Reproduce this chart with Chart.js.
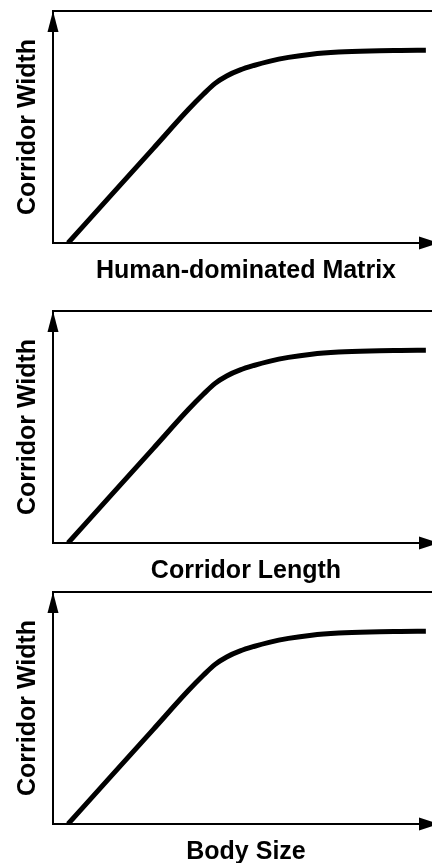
<!DOCTYPE html>
<html>
<head>
<meta charset="utf-8">
<script src="https://cdn.jsdelivr.net/npm/chart.js@4"></script>
<style>
html,body{margin:0;padding:0;background:#fff;overflow:hidden;width:432px;height:863px;}
canvas{position:absolute;left:0;}
</style>
</head>
<body>
<canvas id="panel1" width="440" height="285" style="top:1px"></canvas>
<canvas id="panel2" width="440" height="285" style="top:301px"></canvas>
<canvas id="panel3" width="440" height="285" style="top:582px"></canvas>
<script>
// curve shape (same for the three panels)
const xVals = [3.9, 15, 26, 35, 39, 42, 45, 48.5, 52, 56, 61, 67, 74, 82, 90, 96.6];
const widthVals = [0, 20.5, 40.8, 57.4, 64.2, 68.8, 72.0, 74.6, 76.5, 78.3, 80.0, 81.4, 82.3, 82.8, 83.0, 83.1];

const yTitle = "Corridor Width";
const xTitles = ["Human-dominated Matrix", "Corridor Length", "Body Size"];
const panelIds = ["panel1", "panel2", "panel3"];

const titleFont = {family: "'Liberation Sans', Arial, Helvetica, sans-serif", size: 25, weight: "bold"};

// arrow heads on the axes
const arrows = {
  id: "arrows",
  afterDraw(chart) {
    const ctx = chart.ctx;
    const a = chart.chartArea;
    ctx.save();
    ctx.fillStyle = "#000";
    // up arrow on y axis
    ctx.beginPath();
    ctx.moveTo(a.left, a.top);
    ctx.lineTo(a.left - 5.5, a.top + 21);
    ctx.lineTo(a.left + 5.5, a.top + 21);
    ctx.closePath();
    ctx.fill();
    // right arrow on x axis
    ctx.beginPath();
    ctx.moveTo(a.right, a.bottom);
    ctx.lineTo(a.right - 20, a.bottom - 6.5);
    ctx.lineTo(a.right - 20, a.bottom + 6.5);
    ctx.closePath();
    ctx.fill();
    ctx.restore();
  }
};

const noGrid = {display: false, drawTicks: false};
const axisLine = {display: true, color: "#000", width: 2};

panelIds.forEach(function(id, i) {
  new Chart(document.getElementById(id), {
    type: "line",
    data: {
      datasets: [{
        data: xVals.map((x, k) => ({x: x, y: widthVals[k]})),
        borderColor: "#000",
        borderWidth: 5,
        pointRadius: 0,
        cubicInterpolationMode: "monotone",
        fill: false
      }]
    },
    options: {
      responsive: false,
      animation: false,
      layout: {padding: {top: 10, right: 1, left: 0, bottom: 0}},
      plugins: {legend: {display: false}, tooltip: {enabled: false}},
      scales: {
        x: {
          type: "linear", min: 0, max: 100,
          grid: noGrid,
          ticks: {display: false},
          border: axisLine,
          title: {display: true, text: xTitles[i], color: "#000", font: titleFont, padding: {top: 13, bottom: 0}}
        },
        x2: {
          type: "linear", position: "top", min: 0, max: 100,
          grid: noGrid,
          ticks: {display: false},
          border: axisLine
        },
        y: {
          min: 0, max: 100,
          grid: noGrid,
          ticks: {display: false},
          border: axisLine,
          title: {display: true, text: yTitle, color: "#000", font: titleFont, padding: {top: 13, bottom: 10}}
        }
      }
    },
    plugins: [arrows]
  });
});
</script>
</body>
</html>
